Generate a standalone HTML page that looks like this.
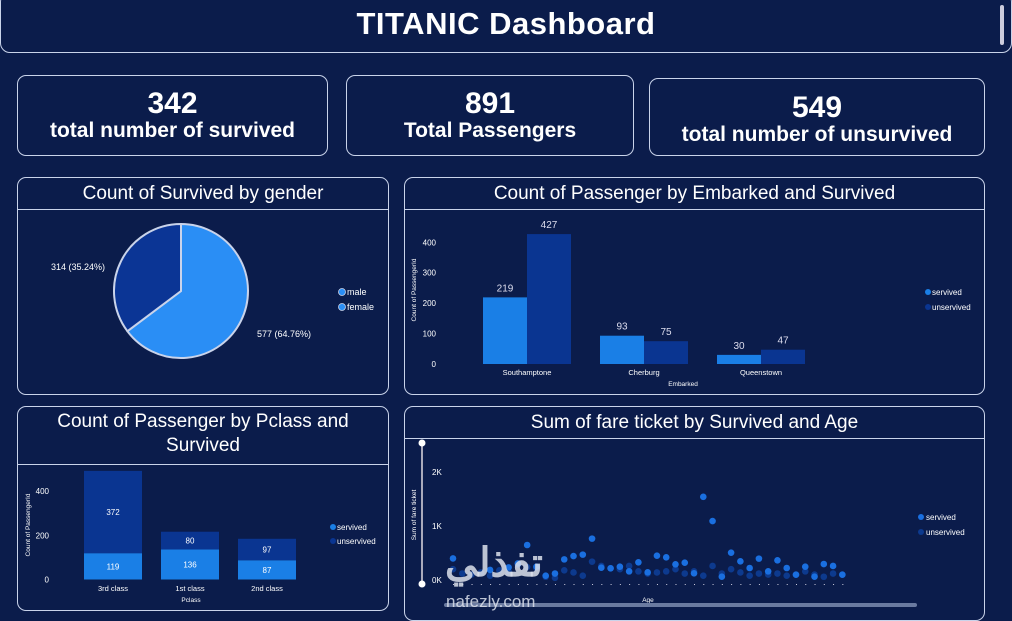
<!DOCTYPE html>
<html><head><meta charset="utf-8">
<style>
html,body{margin:0;padding:0;background:#0b1c4b;width:1012px;height:613px;overflow:hidden;font-family:"Liberation Sans",sans-serif;color:#fff}
.box{position:absolute;border:1.5px solid #c9d3ea;border-radius:9px;box-sizing:border-box}
.kpi{text-align:center;font-weight:bold}
.kpi .v{font-size:30px;line-height:30px;margin-top:13px}
.kpi .l{font-size:21px;line-height:24px}
.ptitle{position:absolute;left:0;right:0;top:0;height:31px;border-bottom:1.5px solid #c9d3ea;text-align:center;font-size:19px;line-height:31px}
svg{position:absolute;left:0;top:0}
</style></head><body>
<div class="box" style="left:0;top:-8px;width:1012px;height:61px;border-radius:10px"></div>
<div style="position:absolute;left:0;width:1012px;top:6px;text-align:center;font-size:31px;font-weight:bold;letter-spacing:0.5px">TITANIC Dashboard</div>
<div style="position:absolute;left:1000px;top:5px;width:4px;height:40px;background:#ccd;border-radius:2px"></div>

<div class="box kpi" style="left:17px;top:75px;width:311px;height:81px"><div class="v">342</div><div class="l">total number of survived</div></div>
<div class="box kpi" style="left:346px;top:75px;width:288px;height:81px"><div class="v">891</div><div class="l">Total Passengers</div></div>
<div class="box kpi" style="left:649px;top:78px;width:336px;height:78px;overflow:hidden"><div class="v" style="margin-top:14px">549</div><div class="l">total number of unsurvived</div></div>

<div class="box" style="left:17px;top:177px;width:372px;height:218px"><div class="ptitle">Count of Survived by gender</div></div>
<div class="box" style="left:404px;top:177px;width:581px;height:218px"><div class="ptitle">Count of Passenger by Embarked and Survived</div></div>
<div class="box" style="left:17px;top:406px;width:372px;height:205px"><div class="ptitle" style="height:54px;line-height:24px;padding-top:3px">Count of Passenger by Pclass and<br>Survived</div></div>
<div class="box" style="left:404px;top:406px;width:581px;height:215px"><div class="ptitle">Sum of fare ticket by Survived and Age</div></div>

<svg id="chart" width="1012" height="613" font-family="Liberation Sans, sans-serif"></svg>
<div style="position:absolute;left:445px;top:540px;font-size:40px;font-weight:bold;color:rgba(220,225,235,0.85);font-family:'Liberation Sans','Noto Sans CJK SC',sans-serif">تفذلي</div>
<div style="position:absolute;left:446px;top:592px;font-size:17px;color:rgba(220,225,235,0.85)">nafezly.com</div>

<script>
// Gender pie data
const genderLabels=["male","female"];
const genderValues=[577,314];
// Embarked data
const embCats=["Southamptone","Cherburg","Queenstown"];
const embSurv=[219,93,30];
const embUnsurv=[427,75,47];
const embTicks=[0,100,200,300,400];
// Pclass data
const pcCats=["3rd class","1st class","2nd class"];
const pcSurv=[119,136,87];
const pcUnsurv=[372,80,97];
const pcTicks=[0,200,400];
// Fare scatter data (by age index)
const fareSurv=[400,null,null,null,186,null,234,308,648,246,80,120,382,444,470,766,228,216,246,160,328,142,450,420,290,320,124,1540,1092,62,506,346,222,396,160,364,222,98,246,62,296,260,98];
const fareUnsurv=[200,120,100,140,80,180,160,280,240,220,60,40,180,140,80,340,260,220,200,260,160,120,140,160,200,120,160,80,260,120,200,140,80,120,100,120,80,100,160,100,60,120,100];
const fareTicks=[0,1000,2000];
const fareTickLabels=["0K","1K","2K"];

const svg=document.getElementById('chart');
const NS='http://www.w3.org/2000/svg';
function el(tag,attrs,parent){const e=document.createElementNS(NS,tag);for(const k in attrs)e.setAttribute(k,attrs[k]);(parent||svg).appendChild(e);return e;}
function txt(x,y,s,size,fill,anchor,parent){const t=el('text',{x:x,y:y,'font-size':size,fill:fill||'#fff','text-anchor':anchor||'middle'},parent);t.textContent=s;return t;}
const C1='#1a7fe6',C2='#0a3591';

// Pie
(function(){
  const cx=181,cy=291,r=67;const tot=genderValues.reduce((a,b)=>a+b,0);
  let a0=-Math.PI/2;const cols=['#2a8ef5','#0b3595'];
  genderValues.forEach((v,i)=>{
    const a1=a0+v/tot*2*Math.PI;
    const x0=cx+r*Math.cos(a0),y0=cy+r*Math.sin(a0),x1=cx+r*Math.cos(a1),y1=cy+r*Math.sin(a1);
    const p=el('path',{d:`M${cx},${cy}L${x0},${y0}A${r},${r} 0 ${a1-a0>Math.PI?1:0} 1 ${x1},${y1}Z`,fill:cols[i],stroke:'#c9d3ea','stroke-width':2});
    
    
    a0=a1;
  });
  const t1=txt(284,337,genderValues[0]+' ('+(genderValues[0]/tot*100).toFixed(2)+'%)',9,'#fff');
  
  
  const t2=txt(78,270,genderValues[1]+' ('+(genderValues[1]/tot*100).toFixed(2)+'%)',9,'#fff');
  
  
  genderLabels.forEach((l,i)=>{
    const c=el('circle',{cx:342,cy:292+i*15,r:3.5,fill:'#2a8ef5',stroke:'#c9d3ea','stroke-width':0.8});
    
    
    const t=txt(347,295+i*15,l,9,'#fff','start');
    
    
  });
})();

// Embarked grouped bars
(function(){
  const y0=364,ppu=(364-242.3)/400;const y=v=>y0-v*ppu;
  const cx=i=>527+i*117;const bw=44;
  embTicks.forEach(t=>{const e=txt(436,y(t)+3,t,8,'#fff','end');});
  const at=txt(0,0,'Count of PassengerId',6.5,'#fff');at.setAttribute('transform','translate(416,290) rotate(-90)');
  
  embCats.forEach((c,i)=>{
    const b1=el('rect',{x:cx(i)-bw,y:y(embSurv[i]),width:bw,height:embSurv[i]*ppu,fill:C1});
    
    const b2=el('rect',{x:cx(i),y:y(embUnsurv[i]),width:bw,height:embUnsurv[i]*ppu,fill:C2});
    
    const l1=txt(cx(i)-bw/2,y(embSurv[i])-6,embSurv[i],10,'#dde');
    const l2=txt(cx(i)+bw/2,y(embUnsurv[i])-6,embUnsurv[i],10,'#dde');
    const xl=txt(cx(i),375,c,7.5,'#fff');
  });
  const xt=txt(683,386,'Embarked',6.5,'#fff');
  ['servived','unservived'].forEach((l,i)=>{
    const c=el('circle',{cx:928,cy:292+i*15,r:3,fill:i?C2:C1});
    const t=txt(932,295+i*15,l,8,'#fff','start');
  });
})();

// Pclass stacked bars
(function(){
  const y0=579.5,ppu=(579.5-491)/400;const y=v=>y0-v*ppu;
  const cx=i=>113+i*77;const bw=58;
  pcTicks.forEach(t=>{const e=txt(49,y(t)+3,t,8,'#fff','end');});
  const at=txt(0,0,'Count of PassengerId',6.5,'#fff');at.setAttribute('transform','translate(30,525) rotate(-90)');
  
  pcCats.forEach((c,i)=>{
    const b1=el('rect',{x:cx(i)-bw/2,y:y(pcSurv[i]),width:bw,height:pcSurv[i]*ppu,fill:C1});
    
    const b2=el('rect',{x:cx(i)-bw/2,y:y(pcSurv[i]+pcUnsurv[i]),width:bw,height:pcUnsurv[i]*ppu,fill:C2});
    
    const l1=txt(cx(i),y(pcSurv[i]/2)+3,pcSurv[i],8,'#fff');
    const l2=txt(cx(i),y(pcSurv[i]+pcUnsurv[i]/2)+3,pcUnsurv[i],8,'#fff');
    const xl=txt(cx(i),591,c,7.5,'#fff');
  });
  const xt=txt(191,602,'Pclass',6.5,'#fff');
  ['servived','unservived'].forEach((l,i)=>{
    const c=el('circle',{cx:333,cy:527+i*14,r:3,fill:i?C2:C1});
    const t=txt(337,530+i*14,l,8,'#fff','start');
  });
})();

// Fare scatter
(function(){
  const y0=580,ppu=(580-472)/2000;const y=v=>y0-v*ppu;
  const x=i=>453+i*9.27;
  const sl=el('line',{x1:422,y1:443,x2:422,y2:584,stroke:'#aab','stroke-width':2});
  [443,584].forEach(yy=>{const h=el('circle',{cx:422,cy:yy,r:3.5,fill:'#fff'});});
  fareTicks.forEach((t,i)=>{const e=txt(432,y(t)+3,fareTickLabels[i],8,'#fff','start');});
  const at=txt(0,0,'Sum of fare ticket',6.5,'#fff');at.setAttribute('transform','translate(416,515) rotate(-90)');
  
  fareUnsurv.forEach((v,i)=>{if(v==null)return;const d=el('circle',{cx:x(i),cy:y(v),r:3.3,fill:'#0d3a8e'});
    const tk=el('rect',{x:x(i),y:584,width:1,height:1,fill:'#ccd'});});
  fareSurv.forEach((v,i)=>{if(v==null)return;const d=el('circle',{cx:x(i),cy:y(v),r:3.3,fill:'#1a6fe0'});});
  const xt=txt(648,602,'Age',6.5,'#fff');
  const sb=el('rect',{x:444,y:603,width:473,height:4,rx:2,fill:'#6a7aa0'});
  ['servived','unservived'].forEach((l,i)=>{
    const c=el('circle',{cx:921,cy:517+i*15,r:3,fill:i?'#0d3a8e':'#1a6fe0'});
    const t=txt(926,520+i*15,l,8,'#fff','start');
  });
})();
</script>
</body></html>
